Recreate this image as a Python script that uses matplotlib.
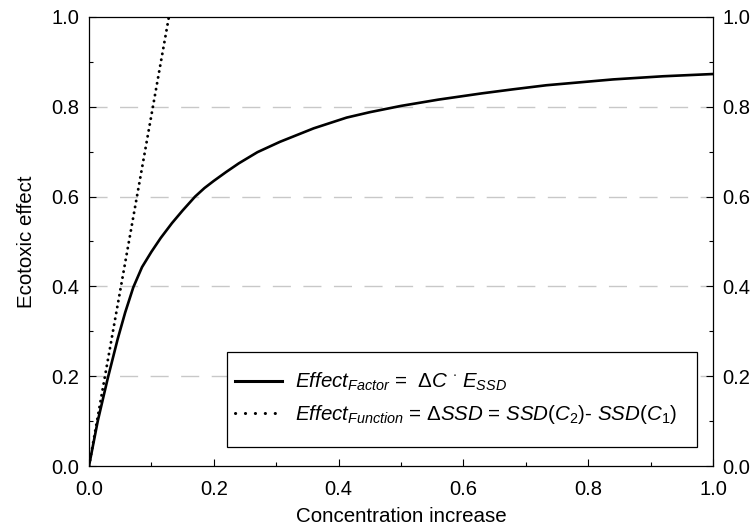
import matplotlib
matplotlib.use("Agg")
import matplotlib.pyplot as plt
from matplotlib.lines import Line2D
from matplotlib.patches import Rectangle
from matplotlib.ticker import MultipleLocator

plt.rcParams['font.family'] = ['Liberation Sans', 'DejaVu Sans']
plt.rcParams['mathtext.fontset'] = 'custom'
plt.rcParams['mathtext.rm'] = 'Liberation Sans'
plt.rcParams['mathtext.it'] = 'Liberation Sans:italic'
plt.rcParams['mathtext.bf'] = 'Liberation Sans:bold'

# Data
x_factor = [0, 0.014, 0.030, 0.046, 0.058, 0.071, 0.085, 0.1, 0.115, 0.133,
            0.15, 0.17, 0.185, 0.2, 0.22, 0.24, 0.27, 0.306, 0.36, 0.413,
            0.45, 0.5, 0.56, 0.63, 0.68, 0.733, 0.84, 0.92, 1.0]
y_factor = [0, 0.1, 0.195, 0.283, 0.342, 0.398, 0.443, 0.477, 0.508, 0.541,
            0.569, 0.6, 0.619, 0.635, 0.655, 0.674, 0.699, 0.722, 0.752, 0.776,
            0.788, 0.802, 0.816, 0.83, 0.839, 0.848, 0.861, 0.868, 0.873]
x_function = [0, 0.128]
y_function = [0, 1.0]

x_ticks = [0.0, 0.2, 0.4, 0.6, 0.8, 1.0]
y_ticks = [0.0, 0.2, 0.4, 0.6, 0.8, 1.0]
grid_levels = [0.2, 0.4, 0.6, 0.8]

label_factor = r"$Effect_{Factor}$ =  $\Delta C$ $^{\cdot}$ $E_{SSD}$"
label_function = r"$Effect_{Function}$ = $\Delta SSD$ = $SSD(C_{2})$- $SSD(C_{1})$"

fig = plt.figure(figsize=(7.55, 5.31), dpi=100)
ax = fig.add_axes([89/755, 65/531, 624/755, 449/531])

for g in grid_levels:
    ax.axhline(g, color='#c8c8c8', lw=1.0, dashes=(13, 9), zorder=0)

ax.plot(x_factor, y_factor, color='black', lw=1.9, solid_capstyle='round',
        solid_joinstyle='round')
ax.plot(x_function, y_function, color='black', lw=2.1,
        dashes=(0.05, 2.0), dash_capstyle='round')

ax.set_xlim(0, 1)
ax.set_ylim(0, 1)
ax.set_xticks(x_ticks)
ax.set_yticks(y_ticks)
ax.set_xticklabels([f"{v:.1f}" for v in x_ticks])
ax.set_yticklabels([f"{v:.1f}" for v in y_ticks])
ax.xaxis.set_minor_locator(MultipleLocator(0.1))
ax.yaxis.set_minor_locator(MultipleLocator(0.1))
ax.tick_params(which='both', direction='in', top=False, right=True,
               labelright=True, labelsize=14.5, width=0.8)
ax.tick_params(axis='y', which='both', pad=7)
ax.tick_params(axis='x', which='both', pad=10)
ax.tick_params(which='major', length=5)
ax.tick_params(which='minor', length=3)
for s in ax.spines.values():
    s.set_linewidth(0.9)

ax.set_xlabel("Concentration increase", fontsize=14.8, labelpad=6)
ax.set_ylabel("Ecotoxic effect", fontsize=14.8, labelpad=11)

# legend frame
ax.add_patch(Rectangle((0.221, 0.042), 0.753, 0.212, transform=ax.transAxes,
                       fill=True, facecolor='white', edgecolor='black',
                       lw=0.9, zorder=4))

h1 = Line2D([], [], color='black', lw=2.2)
h2 = Line2D([], [], color='black', lw=2.2, dashes=(0.05, 3.2), dash_capstyle='round')
leg = ax.legend([h1, h2], [label_factor, label_function],
                loc='center left', bbox_to_anchor=(0.221, 0.150),
                fontsize=14.8, frameon=False, handlelength=2.3,
                handletextpad=0.6, labelspacing=0.5, borderpad=0.4,
                borderaxespad=0)
leg.set_zorder(5)

fig.savefig("out.png", dpi=100)
